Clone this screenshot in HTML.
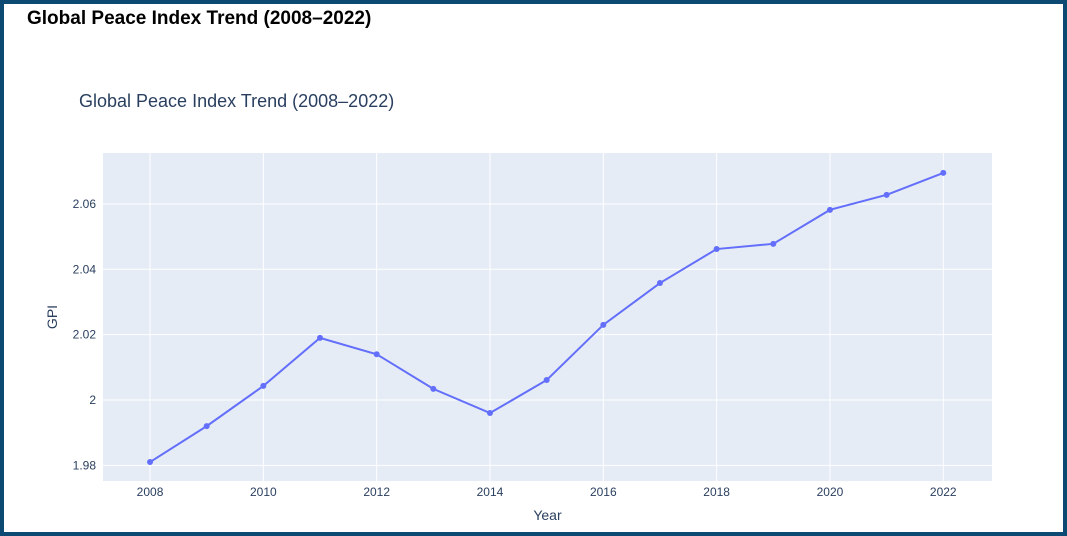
<!DOCTYPE html>
<html><head><meta charset="utf-8"><style>
html,body{margin:0;padding:0;}
body{width:1067px;height:536px;overflow:hidden;background:#0d4a73;font-family:"Liberation Sans",sans-serif;}
#frame{position:absolute;left:4px;top:4px;width:1059px;height:528px;background:#fff;}
h1{position:absolute;left:23px;top:4px;margin:0;font-size:19px;font-weight:bold;color:#000;}
svg{position:absolute;left:0;top:0;}
</style></head><body>
<div id="frame">
<h1>Global Peace Index Trend (2008–2022)</h1>
</div>
<svg id="chart" width="1067" height="536"></svg>
<script>
const years=[2008,2009,2010,2011,2012,2013,2014,2015,2016,2017,2018,2019,2020,2021,2022];
const gpi=[1.981,1.992,2.0043,2.019,2.014,2.0034,1.996,2.0061,2.023,2.0358,2.0462,2.0478,2.0582,2.0628,2.0695];
const yTicks=[1.98,2,2.02,2.04,2.06];
const yTickLabels=["1.98","2","2.02","2.04","2.06"];
const xTicks=[2008,2010,2012,2014,2016,2018,2020,2022];
const L=103,R=992,T=153,B=481;
const xMin=2007.17,xMax=2022.86,yMin=1.9752,yMax=2.0756;
const sx=v=>L+(v-xMin)/(xMax-xMin)*(R-L);
const sy=v=>B-(v-yMin)/(yMax-yMin)*(B-T);
const svg=document.getElementById('chart');
const NS='http://www.w3.org/2000/svg';
function mk(tag,attrs,parent){const e=document.createElementNS(NS,tag);for(const k in attrs)e.setAttribute(k,attrs[k]);(parent||svg).appendChild(e);return e;}
const bg=mk('rect',{x:L,y:T,width:R-L,height:B-T,fill:'#e5ecf6'});


xTicks.forEach(t=>{
 const g=mk('line',{x1:sx(t),x2:sx(t),y1:T,y2:B,stroke:'#fff','stroke-width':1});
 
 
 const tx=mk('text',{x:sx(t),y:496,'text-anchor':'middle','font-size':12,fill:'#2a3f5f'});
 tx.textContent=t;
 
 
});
yTicks.forEach((t,i)=>{
 const g=mk('line',{x1:L,x2:R,y1:sy(t),y2:sy(t),stroke:'#fff','stroke-width':1});
 
 
 const tx=mk('text',{x:96,y:sy(t)+4,'text-anchor':'end','font-size':12,fill:'#2a3f5f'});
 tx.textContent=yTickLabels[i];
 
 
});
const pts=years.map((y,i)=>sx(y)+','+sy(gpi[i])).join(' ');
const line=mk('polyline',{points:pts,fill:'none',stroke:'#636efa','stroke-width':2});


years.forEach((y,i)=>{
 const c=mk('circle',{cx:sx(y),cy:sy(gpi[i]),r:3,fill:'#636efa'});
 
 
});
const title=mk('text',{x:79,y:107,'font-size':18,fill:'#2a3f5f'});
title.textContent='Global Peace Index Trend (2008–2022)';


const xt=mk('text',{x:(L+R)/2,y:520,'text-anchor':'middle','font-size':14,fill:'#2a3f5f'});
xt.textContent='Year';


const yt=mk('text',{x:57,y:(T+B)/2,'text-anchor':'middle','font-size':14,fill:'#2a3f5f',transform:'rotate(-90 57 '+((T+B)/2)+')'});
yt.textContent='GPI';


</script>
</body></html>
